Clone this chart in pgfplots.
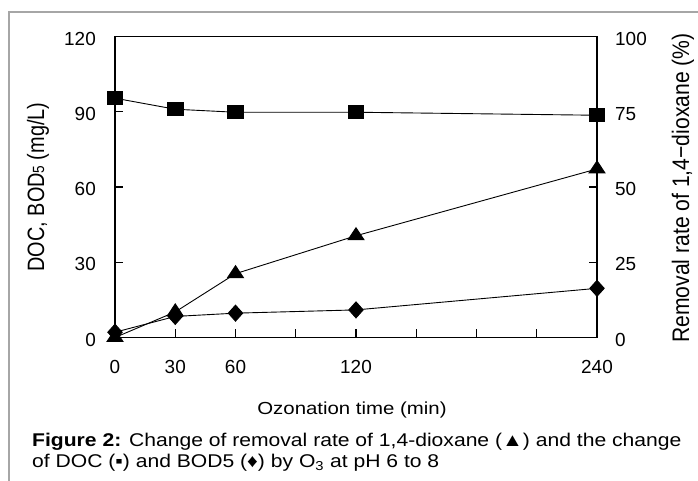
\documentclass[border=0pt]{standalone}
\usepackage{fontspec}
\setmainfont{Liberation Sans}
\usepackage{graphicx}
\usepackage{pgfplots}
\pgfplotsset{compat=1.18}
\begin{document}
\begin{tikzpicture}[x=1bp,y=1bp]
\useasboundingbox (0,0) rectangle (698,481);
\draw[gray!70, line width=1.2bp] (9,0) -- (9,469) -- (698,469);
\pgfplotsset{
  every axis/.append style={
    scale only axis, width=482bp, height=301bp,
    at={(115bp,143.5bp)}, anchor=south west,
    xmin=0, xmax=240,
    axis line style={line width=1.3bp},
    major tick length=8bp,
    tick style={line width=1.1bp, black},
    tick align=inside,
    /pgf/number format/assume math mode=true,
    ticklabel style={font=\fontsize{19}{19}\selectfont, inner sep=0pt},
  }
}
\begin{axis}[
  ymin=0, ymax=120,
  ytick={0,30,60,90,120},
  ytick pos=left,
  xtick={0,30,...,240},
  xticklabels={0,30,60,,120,,,,240},
  xtick pos=bottom,
  yticklabel style={anchor=east, xshift=-19bp, yshift=-2bp},
  xticklabel style={anchor=north, yshift=-22.5bp},
]
\addplot[black, line width=0.9bp, mark=square*, mark size=6.5bp, mark options={xscale=1.2}] coordinates {
(0,95.4) (30,91.0) (60,89.8) (120,89.8) (240,88.6)};
\addplot[black, line width=0.9bp, mark=diamond*, mark size=8bp, mark options={xscale=1.2}] coordinates {
(0,2.1) (30,8.4) (60,9.7) (120,11.0) (240,19.6)};
\end{axis}
\begin{axis}[
  ymin=0, ymax=100,
  ytick={0,25,50,75,100},
  axis y line*=right,
  axis x line=none,
  yticklabel style={anchor=west, xshift=18bp, yshift=-2bp},
]
\addplot[black, line width=0.9bp, mark=triangle*, mark size=8bp, mark options={xscale=1.15}] coordinates {
(0,0) (30,8.5) (60,21.2) (120,33.8) (240,56.0)};
\end{axis}
% axis titles
\node[rotate=90, inner sep=0pt] at (38,294) {\scalebox{1.05}[1.25]{\fontsize{19}{20}\selectfont DOC, BOD{\fontsize{13}{13}\selectfont 5} (mg/L)}};
\node[rotate=90, inner sep=0pt] at (683,293) {\scalebox{1.06}[1.2]{\fontsize{20}{21}\selectfont Removal rate of 1,4−dioxane (\%)}};
\node[anchor=base, inner sep=0pt] at (352,66) {\scalebox{1.17}[1]{\fontsize{17.5}{18}\selectfont Ozonation time (min)}};
% caption
\node[anchor=base west, inner sep=0pt] at (32,34.3) {\scalebox{1.145}[1]{\fontsize{18.5}{19}\selectfont\textbf{Figure 2:} Change of removal rate of 1,4-dioxane (▲) and the change}};
\node[anchor=base west, inner sep=0pt] at (32,13.7) {\scalebox{1.145}[1]{\fontsize{18.5}{19}\selectfont of DOC (▪) and BOD5 (♦) by O\textsubscript{3} at pH 6 to 8}};
\end{tikzpicture}
\end{document}
